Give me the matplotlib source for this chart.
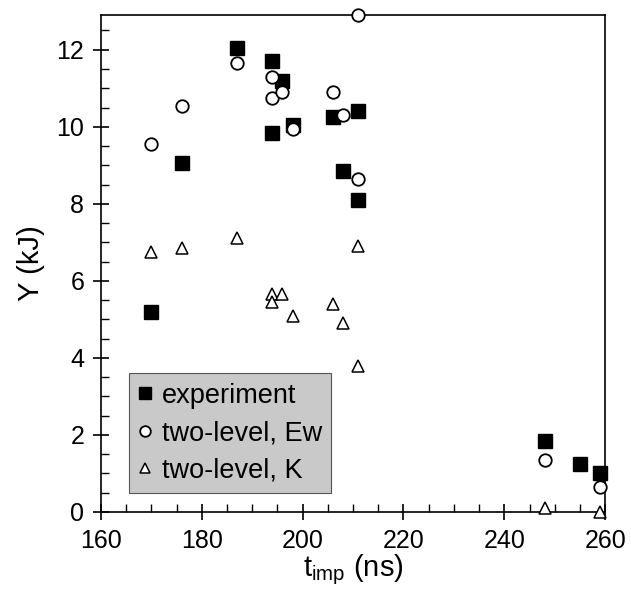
import matplotlib
matplotlib.use("Agg")
import matplotlib.pyplot as plt
from matplotlib.ticker import MultipleLocator

plt.rcParams['font.family'] = ['Liberation Sans', 'DejaVu Sans']
plt.rcParams['mathtext.fontset'] = 'custom'
plt.rcParams['mathtext.rm'] = 'Liberation Sans'
plt.rcParams['mathtext.it'] = 'Liberation Sans'

# experiment
exp_t = [170, 176, 187, 194, 196, 194, 198, 206, 211, 208, 211, 248, 255, 259]
exp_y = [5.2, 9.05, 12.05, 11.7, 11.2, 9.85, 10.05, 10.25, 10.4, 8.85, 8.1, 1.85, 1.25, 1.0]

# two-level, Ew
ew_t = [170, 176, 187, 194, 194, 196, 198, 206, 208, 211, 211, 248, 259]
ew_y = [9.55, 10.55, 11.65, 11.3, 10.75, 10.9, 9.95, 10.9, 10.3, 8.65, 12.9, 1.35, 0.65]

# two-level, K
k_t = [170, 176, 187, 194, 194, 196, 198, 206, 208, 211, 211, 248, 259]
k_y = [6.75, 6.85, 7.1, 5.65, 5.45, 5.65, 5.1, 5.4, 4.9, 6.9, 3.8, 0.1, 0.0]

fig = plt.figure(figsize=(6.31, 6.03), dpi=100)
ax = fig.add_axes([0.160, 0.151, 0.799, 0.824])

ax.plot(exp_t, exp_y, 's', ms=10, mfc='black', mec='black', label='experiment', clip_on=False, zorder=3)
ax.plot(ew_t, ew_y, 'o', ms=9, mfc='white', mec='black', mew=1.3, label='two-level, Ew', clip_on=False, zorder=4)
ax.plot(k_t, k_y, '^', ms=9, mfc='white', mec='black', mew=1.1, label='two-level, K', clip_on=False, zorder=4)

ax.set_xlim(160, 260)
ax.set_ylim(0, 12.9)
ax.xaxis.set_major_locator(MultipleLocator(20))
ax.xaxis.set_minor_locator(MultipleLocator(5))
ax.yaxis.set_major_locator(MultipleLocator(2))
ax.yaxis.set_minor_locator(MultipleLocator(0.5))
ax.tick_params(which='major', direction='inout', length=12, width=1.2, labelsize=18, pad=6)
ax.tick_params(which='minor', direction='in', length=6, width=1.0)
for s in ax.spines.values():
    s.set_linewidth(1.2)

ax.set_xlabel(r't$_{\mathregular{imp}}$ (ns)', fontsize=21, labelpad=0)
ax.set_ylabel('Y (kJ)', fontsize=21, labelpad=8)

leg = ax.legend(loc='lower left', bbox_to_anchor=(0.056, 0.038), fontsize=19.5,
                frameon=True, fancybox=False, handlelength=0.5, handletextpad=0.35,
                borderpad=0.35, labelspacing=0.42, markerscale=0.85, borderaxespad=0)
leg.get_frame().set_facecolor('#c9c9c9')
leg.get_frame().set_edgecolor('#555555')
leg.get_frame().set_linewidth(0.8)
leg.get_frame().set_alpha(1)

fig.savefig('out.png', dpi=100)
